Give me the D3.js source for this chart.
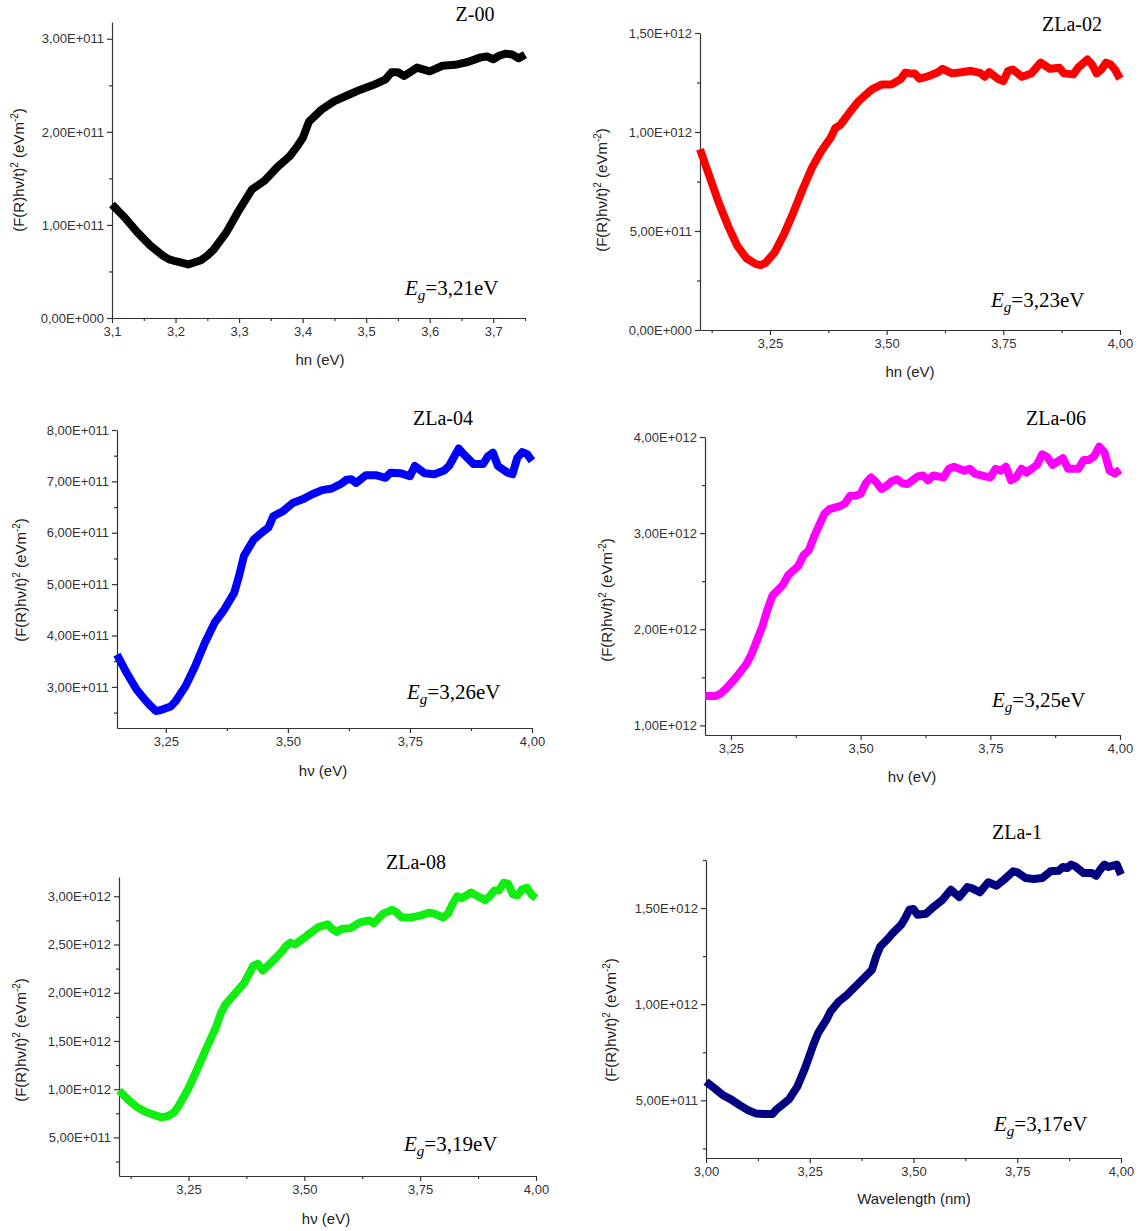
<!DOCTYPE html>
<html>
<head>
<meta charset="utf-8">
<script src="https://cdn.jsdelivr.net/npm/d3@7"></script>
<style>
body { margin: 0; background: #fff; }
.tick text { font-family: "Liberation Sans", Arial, sans-serif; font-size: 13px; fill: #333; }
.domain, .tick line { stroke: #333; stroke-width: 1.2; }
</style>
</head>
<body>
<script>
// photon energy (eV) and (F(R)hv/t)^2, values in units of each panel
var z00E = [3.10,3.12,3.14,3.16,3.18,3.19,3.20,3.22,3.24,3.25,3.26,3.28,3.30,3.32,3.34,3.36,3.38,3.39,3.40,3.41,3.43,3.45,3.47,3.49,3.51,3.53,3.54,3.55,3.56,3.58,3.60,3.62,3.64,3.66,3.68,3.69,3.70,3.71,3.72,3.73,3.74,3.75];
var z00V = [1.22,1.08,0.92,0.78,0.67,0.63,0.61,0.575,0.62,0.67,0.735,0.92,1.16,1.38,1.475,1.62,1.74,1.83,1.93,2.11,2.24,2.33,2.39,2.45,2.50,2.56,2.64,2.64,2.60,2.69,2.65,2.71,2.72,2.75,2.80,2.81,2.78,2.82,2.84,2.83,2.79,2.83]; // x1e11

var z02E = [3.10,3.12,3.14,3.16,3.18,3.20,3.22,3.23,3.24,3.26,3.28,3.30,3.32,3.34,3.36,3.38,3.39,3.40,3.42,3.44,3.46,3.47,3.49,3.51,3.53,3.54,3.55,3.56,3.57,3.59,3.61,3.62,3.64,3.66,3.68,3.70,3.71,3.72,3.74,3.75,3.76,3.77,3.79,3.81,3.83,3.85,3.87,3.88,3.90,3.91,3.93,3.94,3.95,3.96,3.97,3.98,3.99,4.00];
var z02V = [9.13,7.78,6.44,5.26,4.25,3.61,3.33,3.28,3.38,3.92,4.84,5.93,7.11,8.20,9.04,9.71,10.2,10.34,10.97,11.56,11.98,12.18,12.4,12.4,12.66,13.0,12.96,12.96,12.69,12.82,13.02,13.19,12.96,13.02,13.09,12.99,12.79,13.02,12.66,12.57,13.08,13.16,12.79,12.96,13.5,13.19,13.24,12.96,12.91,13.24,13.66,13.41,12.96,13.16,13.5,13.41,13.13,12.69]; // x1e11

var z04E = [3.15,3.17,3.19,3.21,3.22,3.23,3.24,3.26,3.27,3.29,3.31,3.33,3.35,3.37,3.39,3.40,3.41,3.43,3.45,3.46,3.47,3.49,3.51,3.53,3.55,3.57,3.59,3.61,3.62,3.63,3.64,3.66,3.68,3.70,3.71,3.73,3.75,3.76,3.78,3.80,3.82,3.83,3.85,3.86,3.88,3.90,3.91,3.92,3.93,3.95,3.96,3.97,3.98,3.99,4.00];
var z04V = [3.63,3.27,2.95,2.72,2.62,2.53,2.55,2.62,2.72,3.01,3.40,3.86,4.25,4.51,4.83,5.16,5.55,5.87,6.03,6.10,6.32,6.42,6.58,6.65,6.75,6.83,6.86,6.96,7.03,7.04,6.97,7.12,7.12,7.07,7.17,7.16,7.10,7.30,7.16,7.14,7.21,7.30,7.64,7.53,7.34,7.34,7.49,7.56,7.30,7.17,7.14,7.46,7.57,7.53,7.40]; // x1e11

var z06E = [3.20,3.22,3.23,3.24,3.26,3.28,3.29,3.31,3.32,3.33,3.35,3.36,3.38,3.39,3.40,3.41,3.42,3.43,3.44,3.46,3.47,3.48,3.49,3.50,3.51,3.52,3.53,3.54,3.55,3.56,3.57,3.58,3.59,3.61,3.62,3.63,3.64,3.66,3.67,3.68,3.70,3.71,3.72,3.74,3.75,3.76,3.77,3.78,3.79,3.80,3.81,3.82,3.84,3.85,3.86,3.87,3.89,3.90,3.92,3.93,3.94,3.95,3.96,3.97,3.98,3.99,4.00];
var z06V = [1.305,1.305,1.33,1.38,1.50,1.64,1.745,2.02,2.20,2.35,2.46,2.56,2.66,2.77,2.82,2.96,3.08,3.20,3.25,3.28,3.31,3.39,3.39,3.41,3.52,3.58,3.53,3.46,3.49,3.54,3.56,3.52,3.51,3.59,3.60,3.55,3.60,3.58,3.67,3.69,3.65,3.67,3.62,3.59,3.58,3.67,3.65,3.69,3.55,3.58,3.67,3.63,3.71,3.82,3.79,3.71,3.78,3.67,3.67,3.76,3.76,3.80,3.90,3.84,3.65,3.62,3.66]; // x1e12

var z08E = [3.10,3.12,3.14,3.16,3.18,3.19,3.20,3.21,3.22,3.23,3.25,3.27,3.29,3.31,3.32,3.33,3.35,3.37,3.39,3.40,3.41,3.43,3.45,3.46,3.47,3.48,3.50,3.51,3.53,3.55,3.56,3.57,3.58,3.60,3.62,3.64,3.65,3.67,3.69,3.70,3.71,3.73,3.75,3.77,3.78,3.80,3.81,3.82,3.83,3.84,3.86,3.87,3.89,3.90,3.91,3.92,3.93,3.94,3.95,3.96,3.97,3.98,3.99,4.00];
var z08V = [0.986,0.89,0.81,0.76,0.726,0.71,0.715,0.733,0.767,0.837,1.01,1.22,1.44,1.65,1.79,1.88,1.99,2.10,2.28,2.30,2.23,2.32,2.42,2.48,2.52,2.50,2.57,2.61,2.68,2.71,2.66,2.63,2.66,2.67,2.73,2.75,2.72,2.82,2.86,2.83,2.78,2.78,2.80,2.83,2.82,2.78,2.82,2.92,3.00,2.98,3.04,3.01,2.96,3.00,3.06,3.06,3.14,3.13,3.02,3.01,3.07,3.09,3.02,2.98]; // x1e12

var z1E = [3.00,3.02,3.04,3.06,3.08,3.10,3.12,3.14,3.16,3.17,3.18,3.20,3.22,3.24,3.26,3.27,3.29,3.30,3.32,3.34,3.36,3.38,3.40,3.41,3.42,3.44,3.45,3.47,3.48,3.49,3.50,3.51,3.53,3.55,3.57,3.59,3.61,3.63,3.64,3.66,3.68,3.70,3.72,3.74,3.75,3.77,3.79,3.81,3.83,3.85,3.86,3.87,3.88,3.89,3.91,3.93,3.94,3.95,3.96,3.97,3.99,4.00];
var z1V = [0.597,0.563,0.528,0.505,0.476,0.45,0.432,0.429,0.429,0.453,0.47,0.505,0.571,0.675,0.797,0.849,0.918,0.962,1.014,1.049,1.092,1.135,1.179,1.248,1.30,1.344,1.37,1.413,1.448,1.491,1.495,1.465,1.47,1.509,1.543,1.595,1.557,1.609,1.604,1.582,1.634,1.616,1.651,1.691,1.686,1.656,1.651,1.656,1.691,1.694,1.714,1.708,1.726,1.717,1.682,1.682,1.668,1.70,1.726,1.714,1.726,1.674]; // x1e12

// tick values
var xTicks1 = [3.1,3.2,3.3,3.4,3.5,3.6,3.7];
var xMinor1 = [3.15,3.25,3.35,3.45,3.55,3.65,3.75];
var xTicksQ = [3.25,3.5,3.75,4.0];
var xTicks6 = [3.0,3.25,3.5,3.75,4.0];
var xMinorA = [3.125,3.375,3.625,3.875];
var xMinorB = [3.375,3.625,3.875];
var yTicks1 = [0,1e11,2e11,3e11];
var yMinor1 = [0.5e11,1.5e11,2.5e11];
var yTicks2 = [0,5e11,1e12,1.5e12];
var yMinor2 = [2.5e11,7.5e11,1.25e12];
var yTicks3 = [3e11,4e11,5e11,6e11,7e11,8e11];
var yMinor3 = [2.5e11,3.5e11,4.5e11,5.5e11,6.5e11,7.5e11];
var yTicks4 = [1e12,2e12,3e12,4e12];
var yMinor4 = [1.5e12,2.5e12,3.5e12];
var yTicks5 = [0.5e12,1e12,1.5e12,2e12,2.5e12,3e12];
var yMinor5 = [0.25e12,0.75e12,1.25e12,1.75e12,2.25e12,2.75e12];
var yTicks6 = [0.5e12,1e12,1.5e12];
var yMinor6 = [0.25e12,0.75e12,1.25e12,1.75e12];

var names = ['Z-00','ZLa-02','ZLa-04','ZLa-06','ZLa-08','ZLa-1'];
var gaps = ['=3,21eV','=3,23eV','=3,26eV','=3,25eV','=3,19eV','=3,17eV'];
var xTitles = ['hn (eV)','hn (eV)','h\u03bd (eV)','h\u03bd (eV)','h\u03bd (eV)','Wavelength (nm)'];

var panels = [
  {e:z00E, v:z00V, unit:1e11, color:'#000000', xd:[3.1,3.75], yd:[0,3.18e11], l:112, r:525, t:22, b:318,
   xt:xTicks1, xm:xMinor1, yt:yTicks1, ym:yMinor1, xdec:1, tx:475, ty:21, gx:405, gy:295, xlx:320, xly:365, ylx:24, yly:170},
  {e:z02E, v:z02V, unit:1e11, color:'#ff0000', xd:[3.1,4.0], yd:[0,1.5e12], l:700, r:1120, t:33, b:330,
   xt:xTicksQ, xm:xMinorA, yt:yTicks2, ym:yMinor2, xdec:2, tx:1072, ty:31, gx:991, gy:307, xlx:910, xly:377, ylx:607, yly:190},
  {e:z04E, v:z04V, unit:1e11, color:'#0000ff', xd:[3.15,4.0], yd:[2.2e11,8e11], l:117, r:532, t:430, b:728,
   xt:xTicksQ, xm:xMinorB, yt:yTicks3, ym:yMinor3, xdec:2, tx:443, ty:425, gx:407, gy:699, xlx:323, xly:776, ylx:26, yly:580},
  {e:z06E, v:z06V, unit:1e12, color:'#ff00ff', xd:[3.2,4.0], yd:[0.9e12,4e12], l:705, r:1120, t:437, b:735,
   xt:xTicksQ, xm:xMinorB, yt:yTicks4, ym:yMinor4, xdec:2, tx:1056, ty:425, gx:992, gy:707, xlx:912, xly:782, ylx:612, yly:600},
  {e:z08E, v:z08V, unit:1e12, color:'#11ee11', xd:[3.1,4.0], yd:[0.1e12,3.2e12], l:119, r:536, t:877, b:1176,
   xt:xTicksQ, xm:xMinorA, yt:yTicks5, ym:yMinor5, xdec:2, tx:416, ty:869, gx:404, gy:1151, xlx:326, xly:1224, ylx:26, yly:1040},
  {e:z1E, v:z1V, unit:1e12, color:'#000080', xd:[3.0,4.0], yd:[0.2e12,1.75e12], l:706, r:1121, t:860, b:1158,
   xt:xTicks6, xm:xMinorA, yt:yTicks6, ym:yMinor6, xdec:2, tx:1017, ty:839, gx:994, gy:1131, xlx:914, xly:1204, ylx:616, yly:1020}
];

function sci(v) {
  if (v === 0) return '0,00E+000';
  var e = Math.floor(Math.log10(v) + 1e-9);
  var m = v / Math.pow(10, e);
  return m.toFixed(2).replace('.', ',') + 'E+' + String(e).padStart(3, '0');
}

var svg = d3.select('body').append('svg').attr('width', 1142).attr('height', 1231);

panels.forEach(function(p, i) {
  var x = d3.scaleLinear().domain(p.xd).range([p.l, p.r]);
  var y = d3.scaleLinear().domain(p.yd).range([p.b, p.t]);
  var g = svg.append('g');

  // minor ticks
  g.append('g').attr('transform', 'translate(0,' + p.b + ')')
    .call(d3.axisBottom(x).tickValues(p.xm).tickSize(3).tickFormat(''))
    .call(function(a) { a.select('.domain').remove(); });
  g.append('g').attr('transform', 'translate(' + p.l + ',0)')
    .call(d3.axisLeft(y).tickValues(p.ym).tickSize(3).tickFormat(''))
    .call(function(a) { a.select('.domain').remove(); });

  // major ticks
  g.append('g').attr('transform', 'translate(0,' + p.b + ')')
    .call(d3.axisBottom(x).tickValues(p.xt).tickSize(5).tickSizeOuter(0).tickPadding(4)
      .tickFormat(function(d) { return d.toFixed(p.xdec).replace('.', ','); }));
  g.append('g').attr('transform', 'translate(' + p.l + ',0)')
    .call(d3.axisLeft(y).tickValues(p.yt).tickSize(5).tickSizeOuter(0).tickPadding(3).tickFormat(sci));

  // curve
  g.append('path')
    .datum(d3.zip(p.e, p.v))
    .attr('d', d3.line().x(function(d) { return x(d[0]); }).y(function(d) { return y(d[1] * p.unit); }))
    .attr('fill', 'none')
    .attr('stroke', p.color)
    .attr('stroke-width', 8)
    .attr('stroke-linejoin', 'round');

  // sample name
  g.append('text').attr('x', p.tx).attr('y', p.ty)
    .attr('text-anchor', 'middle')
    .style('font-family', '"Liberation Serif", "Times New Roman", serif')
    .style('font-size', '20px')
    .text(names[i]);

  // band gap
  var eg = g.append('text').attr('x', p.gx).attr('y', p.gy)
    .style('font-family', '"Liberation Serif", "Times New Roman", serif')
    .style('font-size', '21px');
  eg.append('tspan').style('font-style', 'italic').text('E');
  eg.append('tspan').style('font-style', 'italic').style('font-size', '15px').attr('dy', 5).text('g');
  eg.append('tspan').attr('dy', -5).text(gaps[i]);

  // axis titles
  g.append('text').attr('x', p.xlx).attr('y', p.xly)
    .attr('text-anchor', 'middle')
    .style('font-family', '"Liberation Sans", Arial, sans-serif')
    .style('font-size', '15px').style('fill', '#222')
    .text(xTitles[i]);

  var yl = g.append('text')
    .attr('transform', 'translate(' + p.ylx + ',' + p.yly + ') rotate(-90)')
    .attr('text-anchor', 'middle')
    .style('font-family', '"Liberation Sans", Arial, sans-serif')
    .style('font-size', '15px').style('fill', '#222');
  yl.append('tspan').text('(F(R)h\u03bd/t)');
  yl.append('tspan').attr('dy', -6).style('font-size', '10px').text('2');
  yl.append('tspan').attr('dy', 6).text(' (eVm');
  yl.append('tspan').attr('dy', -6).style('font-size', '10px').text('-2');
  yl.append('tspan').attr('dy', 6).text(')');
});
</script>
</body>
</html>
